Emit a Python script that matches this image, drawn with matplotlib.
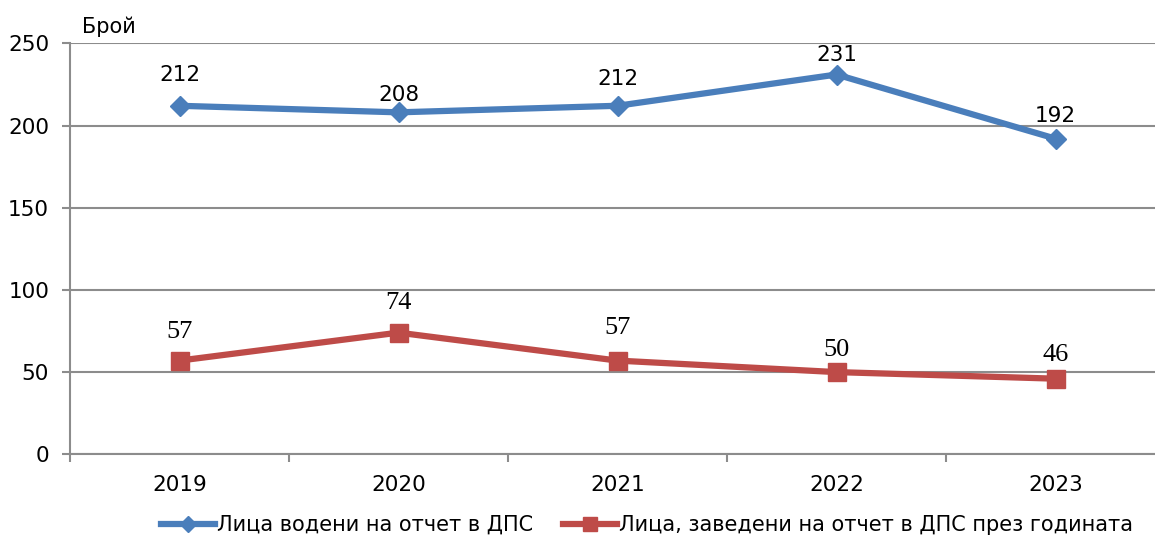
import matplotlib.pyplot as plt
import numpy as np

# data
years = ['2019', '2020', '2021', '2022', '2023']
vodeni = [212, 208, 212, 231, 192]
zavedeni = [57, 74, 57, 50, 46]

# label offsets above the points (px)
vodeni_dy = [31, 17, 27, 20, 23]
zavedeni_dy = [29, 30, 33, 22, 24]

blue = '#4A7EBB'
red = '#BE4B48'
grid = '#8C8C8C'

plt.rcParams['font.family'] = ['DejaVu Sans']

fig = plt.figure(figsize=(11.55, 5.36), dpi=100)
ax = fig.add_axes([70 / 1155, (536 - 454.3) / 536, 1095 / 1155, 411 / 536])

x = np.arange(len(years))
ax.plot(x, vodeni, color=blue, lw=4.5, marker='D', ms=10.5,
        mec=blue, mfc=blue, label='Лица водени на отчет в ДПС', zorder=3)
ax.plot(x, zavedeni, color=red, lw=4.5, marker='s', ms=12.5,
        mec=red, mfc=red, label='Лица, заведени на отчет в ДПС през годината', zorder=3)

for xi, v, dy in zip(x, vodeni, vodeni_dy):
    ax.annotate(str(v), (xi, v), xytext=(0, dy * 0.72), textcoords='offset points',
                ha='center', va='center', fontsize=15.5, color='black')
for xi, v, dy in zip(x, zavedeni, zavedeni_dy):
    ax.annotate(str(v), (xi, v), xytext=(0, dy * 0.72), textcoords='offset points',
                ha='center', va='center', fontsize=19, color='black',
                family='Liberation Serif')

ax.set_xlim(-0.5, len(years) - 0.5)
ax.set_ylim(0, 250)
ax.set_yticks(np.arange(0, 251, 50))
ax.yaxis.grid(True, color=grid, lw=1.5)
ax.set_axisbelow(True)

# category boundaries get the tick marks, labels sit in the middle
ax.set_xticks(np.arange(-0.5, len(years), 1.0))
ax.set_xticklabels([])
ax.set_xticks(x, minor=True)
ax.set_xticklabels(years, minor=True)
ax.tick_params(axis='x', which='major', length=6, width=1.5, color=grid)
ax.tick_params(axis='x', which='minor', length=0, pad=15, labelsize=15.5)
ax.tick_params(axis='y', length=6, width=1.5, color=grid, labelsize=15.5, pad=9)

for s in ['top', 'right']:
    ax.spines[s].set_visible(False)
for s in ['left', 'bottom']:
    ax.spines[s].set_color(grid)
    ax.spines[s].set_linewidth(1.5)

fig.text(82 / 1155, 1 - 27 / 536, 'Брой', fontsize=15, va='center', ha='left')

fig.legend(loc='center', bbox_to_anchor=(647 / 1155, 1 - 525 / 536), ncol=2,
           frameon=False, fontsize=15, handlelength=2.6, handletextpad=0.1,
           columnspacing=1.4, borderaxespad=0, borderpad=0, markerscale=0.75)

fig.savefig('out.png', dpi=100)
